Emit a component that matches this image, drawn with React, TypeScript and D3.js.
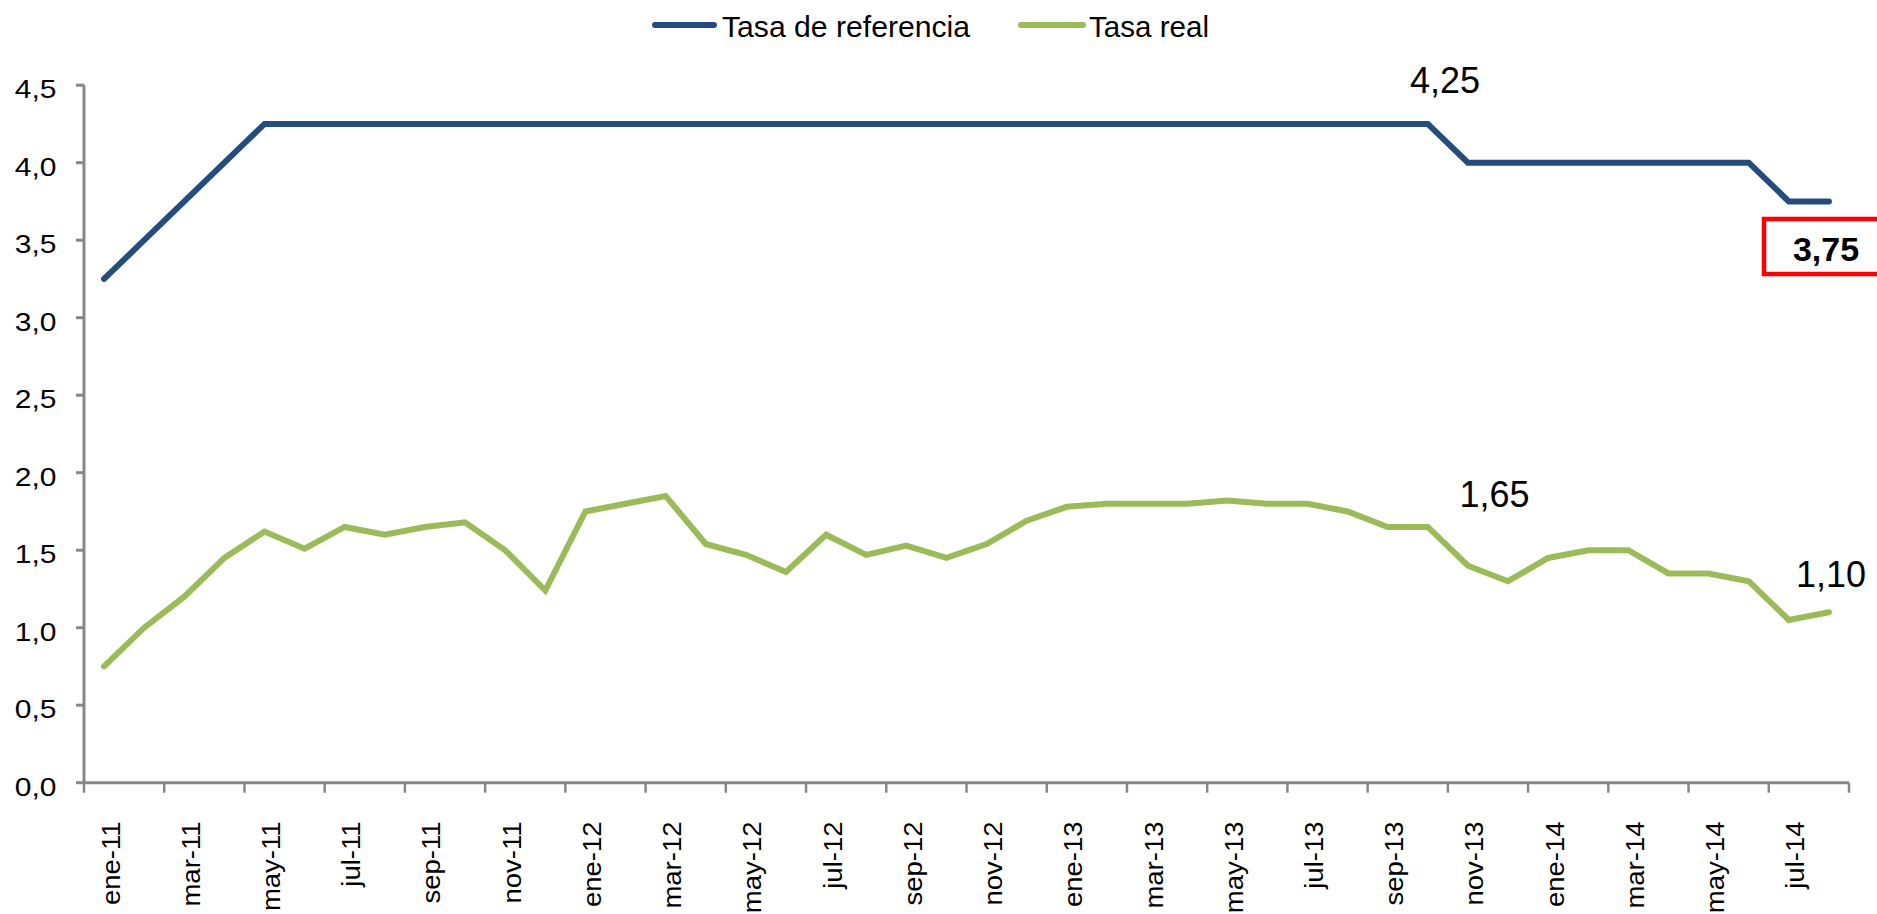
import React from "react";
import * as d3 from "d3";

const months: string[] = [
  "ene-11","feb-11","mar-11","abr-11","may-11","jun-11","jul-11","ago-11","sep-11","oct-11","nov-11","dic-11",
  "ene-12","feb-12","mar-12","abr-12","may-12","jun-12","jul-12","ago-12","sep-12","oct-12","nov-12","dic-12",
  "ene-13","feb-13","mar-13","abr-13","may-13","jun-13","jul-13","ago-13","sep-13","oct-13","nov-13","dic-13",
  "ene-14","feb-14","mar-14","abr-14","may-14","jun-14","jul-14","ago-14",
];

const tasaReferencia: number[] = [
  3.25, 3.5, 3.75, 4.0, 4.25, 4.25, 4.25, 4.25, 4.25, 4.25, 4.25, 4.25,
  4.25, 4.25, 4.25, 4.25, 4.25, 4.25, 4.25, 4.25, 4.25, 4.25, 4.25, 4.25,
  4.25, 4.25, 4.25, 4.25, 4.25, 4.25, 4.25, 4.25, 4.25, 4.25, 4.0, 4.0,
  4.0, 4.0, 4.0, 4.0, 4.0, 4.0, 3.75, 3.75,
];

const tasaReal: number[] = [
  0.75, 1.0, 1.2, 1.45, 1.62, 1.51, 1.65, 1.6, 1.65, 1.68, 1.5, 1.24,
  1.75, 1.8, 1.85, 1.54, 1.47, 1.36, 1.6, 1.47, 1.53, 1.45, 1.54, 1.69,
  1.78, 1.8, 1.8, 1.8, 1.82, 1.8, 1.8, 1.75, 1.65, 1.65, 1.4, 1.3,
  1.45, 1.5, 1.5, 1.35, 1.35, 1.3, 1.05, 1.1,
];

const yTicks: number[] = [0, 0.5, 1, 1.5, 2, 2.5, 3, 3.5, 4, 4.5];

const seriesNames: string[] = ["Tasa de referencia", "Tasa real"];

const BLUE = "#244C7C";
const GREEN = "#9BBB59";
const AXIS = "#878787";
const FONT = "'Liberation Sans', Arial, sans-serif";

export default function App() {
  const W = 1877;
  const H = 914;
  const left = 84;
  const right = 1849;
  const top = 85.2;
  const bottom = 782.7;

  const x = d3.scaleBand<string>().domain(months).range([left, right]).paddingInner(0).paddingOuter(0);
  const y = d3.scaleLinear().domain([0, 4.5]).range([bottom, top]);
  const cx = (m: string) => (x(m) as number) + x.bandwidth() / 2;

  const line = d3
    .line<number>()
    .x((_, i) => cx(months[i]))
    .y((d) => y(d));

  const fmt = (v: number) => v.toFixed(1).replace(".", ",");
  const fmt2 = (v: number) => v.toFixed(2).replace(".", ",");

  const tickPositions: number[] = [];
  for (let i = 0; i <= months.length; i += 2) {
    tickPositions.push(left + i * x.bandwidth());
  }

  const lastIdx = months.length - 1;
  const peakIdx = 33; // oct-13

  return (
    <svg
      width={W}
      height={H}
      style={{ position: "absolute", left: 0, top: 0, background: "#fff" }}
      fontFamily={FONT}
    >
      <rect x={0} y={0} width={W} height={H} fill="#fff" />
      {/* legend */}
      <g>
        <line x1={655} x2={714} y1={25} y2={25} stroke={BLUE} strokeWidth={6} strokeLinecap="round" />
        <text transform="translate(722,37.3) scale(1.04,1)" fontSize={29} fill="#000">{seriesNames[0]}</text>
        <line x1={1021} x2={1083} y1={25} y2={25} stroke={GREEN} strokeWidth={6} strokeLinecap="round" />
        <text transform="translate(1089,37.3) scale(1.02,1)" fontSize={29} fill="#000">{seriesNames[1]}</text>
      </g>

      {/* y axis */}
      <line x1={left} x2={left} y1={top} y2={bottom} stroke={AXIS} strokeWidth={3} />
      {yTicks.map((t) => (
        <g key={t}>
          <line x1={left - 8} x2={left} y1={y(t)} y2={y(t)} stroke={AXIS} strokeWidth={3} />
          <text
            transform={`translate(56.5,${y(t) + 13}) scale(1.2,1)`}
            fontSize={25}
            textAnchor="end"
            fill="#000"
          >
            {fmt(t)}
          </text>
        </g>
      ))}

      {/* x axis */}
      <line x1={left} x2={right} y1={bottom} y2={bottom} stroke={AXIS} strokeWidth={3} />
      {tickPositions.map((p, i) => (
        <line key={i} x1={p} x2={p} y1={bottom} y2={bottom + 10} stroke={AXIS} strokeWidth={2.5} />
      ))}
      {months.map((m, i) =>
        i % 2 === 0 ? (
          <text
            key={m}
            transform={`translate(${cx(m) + 15.5},${821.5}) rotate(-90) scale(1.1,1)`}
            fontSize={25}
            textAnchor="end"
            fill="#000"
          >
            {m}
          </text>
        ) : null
      )}

      {/* series */}
      <path d={line(tasaReferencia) || ""} fill="none" stroke={BLUE} strokeWidth={6} strokeLinejoin="miter" strokeLinecap="round" />
      <path d={line(tasaReal) || ""} fill="none" stroke={GREEN} strokeWidth={6} strokeLinejoin="miter" strokeLinecap="round" />

      {/* annotations */}
      <text x={1445} y={92.7} fontSize={36} textAnchor="middle" fill="#000">
        {fmt2(tasaReferencia[peakIdx])}
      </text>
      <text x={1494.5} y={506.5} fontSize={36} textAnchor="middle" fill="#000">
        {fmt2(tasaReal[peakIdx])}
      </text>
      <text x={1831} y={587} fontSize={36} textAnchor="middle" fill="#000">
        {fmt2(tasaReal[lastIdx])}
      </text>
      <rect x={1764} y={219} width={120} height={55} fill="#fff" stroke="#FF0000" strokeWidth={4.5} />
      <text x={1826} y={260.5} fontSize={34} fontWeight="bold" textAnchor="middle" fill="#000">
        {fmt2(tasaReferencia[lastIdx])}
      </text>
    </svg>
  );
}
